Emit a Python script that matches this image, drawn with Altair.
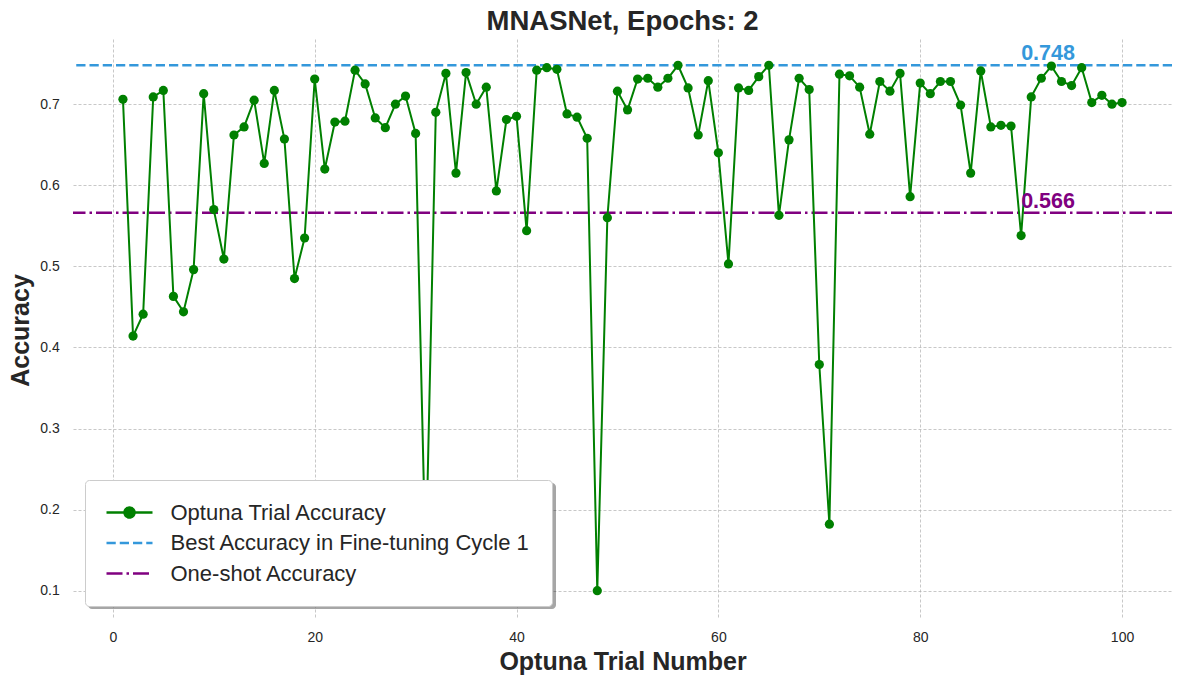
import altair as alt
import pandas as pd

# ---------------- data ----------------
trial_numbers = list(range(1, 101))
accuracy = [
    0.706, 0.414, 0.441, 0.709, 0.717, 0.463, 0.444, 0.496, 0.713, 0.570,
    0.509, 0.662, 0.672, 0.705, 0.627, 0.717, 0.657, 0.485, 0.535, 0.731,
    0.620, 0.678, 0.679, 0.742, 0.725, 0.683, 0.671, 0.700, 0.710, 0.664,
    0.130, 0.690, 0.738, 0.615, 0.739, 0.700, 0.721, 0.593, 0.681, 0.685,
    0.544, 0.742, 0.745, 0.743, 0.688, 0.684, 0.658, 0.100, 0.560, 0.716,
    0.693, 0.731, 0.732, 0.721, 0.732, 0.748, 0.720, 0.662, 0.729, 0.640,
    0.503, 0.720, 0.717, 0.734, 0.748, 0.563, 0.656, 0.732, 0.718, 0.379,
    0.182, 0.737, 0.735, 0.721, 0.663, 0.728, 0.716, 0.738, 0.586, 0.726,
    0.713, 0.728, 0.728, 0.699, 0.615, 0.741, 0.672, 0.674, 0.673, 0.538,
    0.709, 0.732, 0.747, 0.728, 0.723, 0.745, 0.702, 0.711, 0.700, 0.702,
]
series_names = ["Optuna Trial Accuracy", "Best Accuracy in Fine-tuning Cycle 1", "One-shot Accuracy"]
series_colors = ["#008000", "#3498db", "#800080"]
ref_values = [0.748, 0.566]
ref_labels = ["0.748", "0.566"]
ref_label_x = [90, 90]
x_ticks = [0, 20, 40, 60, 80, 100]
y_ticks = [0.1, 0.2, 0.3, 0.4, 0.5, 0.6, 0.7]

trials = pd.DataFrame({"trial": trial_numbers, "accuracy": accuracy, "series": series_names[0]})
refs = pd.DataFrame({"value": ref_values, "label": ref_labels, "x": ref_label_x, "series": series_names[1:]})

# ---------------- style ----------------
FONT = "Liberation Sans, Arial, Helvetica, sans-serif"
TEXT = "#262626"
SYM_DOT = "M-4.6,0H4.6M-1,0A1,1,0,1,0,1,0A1,1,0,1,0,-1,0Z"
SYM_LINE = "M-4.6,0H4.6"

x_scale = alt.Scale(domain=[-3.95, 104.95], nice=False, zero=False)
y_scale = alt.Scale(domain=[0.0676, 0.7804], nice=False, zero=False)
color_scale = alt.Scale(domain=series_names, range=series_colors)
dash_scale = alt.Scale(domain=series_names, range=[[1, 0], [9.25, 4], [16, 4, 2.5, 4]])

x_axis = alt.Axis(values=x_ticks, format="d", title="Optuna Trial Number",
                  labelBaseline="alphabetic", labelPadding=24.7, labelFlush=False,
                  titleY=52, titleBaseline="alphabetic")
y_axis = alt.Axis(values=y_ticks, format=".1f", title="Accuracy", labelPadding=13.7,
                  titleX=-44.5, titleY=291, titleAngle=270, titleBaseline="alphabetic",
                  titleAlign="center")

LEG_PAD = 21.5
LEG_ROWPAD = 8.5
LEG_OFFSET = 11.5
LEG_HEIGHT = 2 * LEG_PAD + 3 * 22 + 2 * LEG_ROWPAD
PLOT_H = 578

n0, n1, n2 = series_names
main_legend = alt.Legend(
    title=None, orient="bottom-left", offset=LEG_OFFSET, zindex=2, direction="vertical",
    symbolType={"expr": f"datum.value === '{n0}' ? '{SYM_DOT}' : '{SYM_LINE}'"},
    symbolFillColor={"expr": f"datum.value === '{n0}' ? '#008000' : 'transparent'"},
    symbolDash={"expr": f"datum.value === '{n1}' ? [9.25, 4] : (datum.value === '{n2}' ? [16, 4, 2.5, 4] : [1, 0])"},
    symbolSize=100, symbolStrokeWidth=2.5, symbolOffset=12, symbolOpacity=1,
    labelOffset=30, labelFontSize=22, labelFont=FONT, labelColor=TEXT, labelLimit=600,
    rowPadding=LEG_ROWPAD, padding=LEG_PAD, fillColor="white", strokeColor="#cccccc",
    cornerRadius=4,
)
# drop shadow behind the legend box (same size, offset 3px, no visible content)
shadow_legend = alt.Legend(
    title=None, orient="none", legendX=LEG_OFFSET + 3,
    legendY=PLOT_H - LEG_OFFSET - LEG_HEIGHT + 3, zindex=1, direction="vertical",
    symbolType=SYM_LINE, symbolSize=100, symbolStrokeWidth=2.5, symbolOffset=12,
    symbolOpacity=0, labelExpr="''", labelOffset=390.5, labelFontSize=22, labelFont=FONT,
    labelColor="transparent", labelOpacity=0, labelLimit=600, rowPadding=LEG_ROWPAD,
    padding=LEG_PAD, fillColor="rgba(0,0,0,0.35)", strokeColor="transparent",
    cornerRadius=4,
)

rules = alt.Chart(refs).mark_rule(strokeWidth=2.5).encode(
    y=alt.Y("value:Q", scale=y_scale, axis=y_axis, title="Accuracy"),
    color=alt.Color("series:N", scale=color_scale, legend=main_legend),
    strokeDash=alt.StrokeDash("series:N", scale=dash_scale, legend=None),
)

line = alt.Chart(trials).mark_line(strokeWidth=2).encode(
    x=alt.X("trial:Q", scale=x_scale, axis=x_axis, title="Optuna Trial Number"),
    y=alt.Y("accuracy:Q", scale=y_scale, axis=y_axis, title="Accuracy"),
    color=alt.Color("series:N", scale=color_scale, legend=main_legend),
)

points = alt.Chart(trials).mark_point(filled=True, size=85, opacity=1, color="#008000").encode(
    x=alt.X("trial:Q", scale=x_scale, axis=x_axis, title="Optuna Trial Number"),
    y=alt.Y("accuracy:Q", scale=y_scale, axis=y_axis, title="Accuracy"),
)

labels = alt.Chart(refs).mark_text(align="left", baseline="alphabetic", dy=-4.8,
                                   fontSize=21.5, fontWeight="bold", font=FONT).encode(
    x=alt.X("x:Q", scale=x_scale, axis=x_axis, title="Optuna Trial Number"),
    y=alt.Y("value:Q", scale=y_scale, axis=y_axis, title="Accuracy"),
    text="label:N",
    color=alt.Color("series:N", scale=color_scale, legend=None),
    opacity=alt.Opacity("series:N", scale=alt.Scale(domain=series_names, range=[1, 1, 1]),
                        legend=shadow_legend),
)

chart = alt.layer(rules, line, points, labels).properties(
    width=1099, height=PLOT_H,
    padding={"left": 65, "top": 31, "right": 4, "bottom": 59},
    autosize=alt.AutoSizeParams(type="none"),
    title=alt.TitleParams(text="MNASNet, Epochs: 2", fontSize=27.5, fontWeight="bold",
                          font=FONT, color=TEXT, anchor="middle", frame="group",
                          baseline="alphabetic", offset=4, dy=22),
    background="white",
).configure_view(stroke="transparent").configure_axis(
    domain=False, ticks=False, tickSize=0, grid=True, gridColor="#b0b0b0",
    gridDash=[3, 2], gridWidth=0.7, labelFont=FONT, labelFontSize=14, labelColor=TEXT,
    titleFont=FONT, titleFontSize=25, titleFontWeight="bold", titleColor=TEXT,
)

chart.save("out.html", embed_options={"renderer": "svg", "actions": False})
